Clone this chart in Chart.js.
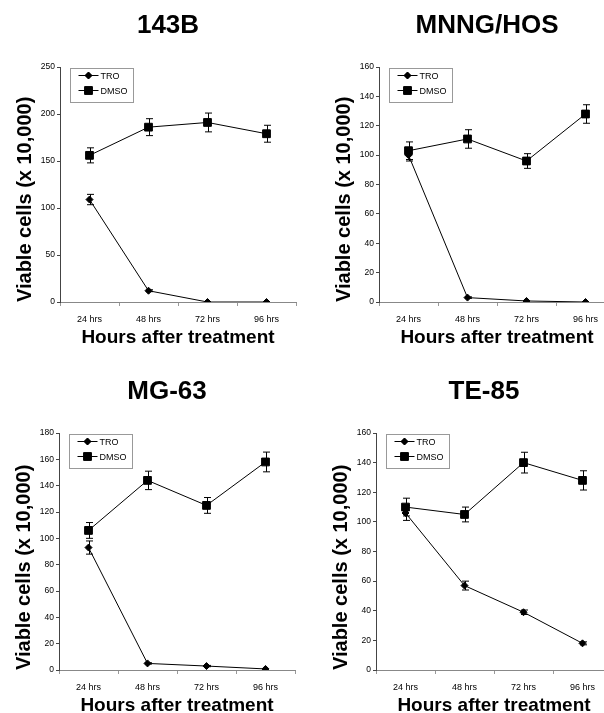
<!DOCTYPE html>
<html>
<head>
<meta charset="utf-8">
<script src="https://cdn.jsdelivr.net/npm/chart.js@4/dist/chart.umd.min.js"></script>
<style>
    body { margin: 0; background: #fff; width: 604px; height: 713px; overflow: hidden; position: relative; }
    canvas { position: absolute; }
</style>
</head>
<body>
<canvas id="c143b" width="319" height="347" style="left:0;top:0"></canvas>
<canvas id="cmnng" width="319" height="347" style="left:319px;top:0"></canvas>
<canvas id="cmg63" width="319" height="349" style="left:-1px;top:366px"></canvas>
<canvas id="cte85" width="319" height="349" style="left:316px;top:366px"></canvas>
<script>
const hours = ['24 hrs', '48 hrs', '72 hrs', '96 hrs'];

// 143B
const tro143B = [109, 12, 0, 0];
const tro143BErr = [5.5, 1, 0, 0];
const dmso143B = [156, 186, 191, 179];
const dmso143BErr = [8, 9, 10, 9];

// MNNG/HOS
const troMnng = [100, 3, 0.7, 0];
const troMnngErr = [4, 0.5, 0, 0];
const dmsoMnng = [103, 111, 96, 128];
const dmsoMnngErr = [6, 6.3, 5, 6.3];

// MG-63
const troMg63 = [93, 5, 3, 0.8];
const troMg63Err = [5, 0.5, 0.5, 0];
const dmsoMg63 = [106, 144, 125, 158];
const dmsoMg63Err = [6, 7, 6, 7.5];

// TE-85
const troTe85 = [106, 57, 39, 18];
const troTe85Err = [5, 3, 1.5, 1];
const dmsoTe85 = [110, 105, 140, 128];
const dmsoTe85Err = [6, 5, 7, 6.5];

const FONT = '"Liberation Sans", Arial, sans-serif';

// error bars drawn from each dataset's errors array
const errorBars = {
    id: 'errorBars',
    afterDatasetsDraw(chart) {
        const ctx = chart.ctx;
        const y = chart.scales.y;
        ctx.save();
        ctx.strokeStyle = '#000';
        ctx.lineWidth = 1;
        chart.data.datasets.forEach((ds, di) => {
            const meta = chart.getDatasetMeta(di);
            ds.errors.forEach((e, i) => {
                if (!e) return;
                const x = Math.round(meta.data[i].x) + 0.5;
                const top = y.getPixelForValue(ds.data[i] + e);
                const bot = y.getPixelForValue(ds.data[i] - e);
                ctx.beginPath();
                ctx.moveTo(x, top); ctx.lineTo(x, bot);
                ctx.moveTo(x - 3.5, top); ctx.lineTo(x + 3.5, top);
                ctx.moveTo(x - 3.5, bot); ctx.lineTo(x + 3.5, bot);
                ctx.stroke();
            });
        });
        ctx.restore();
    }
};

// boxed legend inside the plot, top left, plus the panel title
const panelDecor = {
    id: 'panelDecor',
    afterDraw(chart, args, opts) {
        const ctx = chart.ctx;
        const area = chart.chartArea;
        ctx.save();
        ctx.fillStyle = '#000';
        ctx.font = 'bold 26px ' + FONT;
        ctx.textAlign = 'center';
        ctx.textBaseline = 'middle';
        ctx.fillText(opts.title, area.left + 108, 26);

        const bx = Math.round(area.left + 10) + 0.5;
        const by = Math.round(area.top + 1) + 0.5;
        ctx.strokeStyle = '#999';
        ctx.lineWidth = 1;
        ctx.strokeRect(bx, by, 63, 34);

        ctx.font = '9px ' + FONT;
        ctx.textAlign = 'left';
        chart.data.datasets.forEach((ds, i) => {
            const ly = by + 7 + i * 15;
            ctx.beginPath();
            ctx.moveTo(bx + 8, ly); ctx.lineTo(bx + 28, ly);
            ctx.strokeStyle = '#000';
            ctx.stroke();
            Chart.helpers.drawPoint(ctx, {
                pointStyle: ds.pointStyle, radius: ds.pointRadius, borderWidth: 1
            }, bx + 18, ly);
            ctx.fill();
            ctx.fillText(ds.label, bx + 30, ly + 1);
        });
        ctx.restore();
    }
};

function makePanel(id, title, yMax, step, tro, troErr, dmso, dmsoErr) {
    const ctx = document.getElementById(id).getContext('2d');
    return new Chart(ctx, {
        type: 'line',
        data: {
            labels: hours,
            datasets: [{
                label: 'TRO',
                data: tro,
                errors: troErr,
                borderColor: '#000',
                backgroundColor: '#000',
                borderWidth: 1,
                pointStyle: 'rectRot',
                pointRadius: 3.5,
                tension: 0
            }, {
                label: 'DMSO',
                data: dmso,
                errors: dmsoErr,
                borderColor: '#000',
                backgroundColor: '#000',
                borderWidth: 1,
                pointStyle: 'rect',
                pointRadius: 5.5,
                tension: 0
            }]
        },
        options: {
            responsive: false,
            animation: false,
            layout: { padding: { top: 67, right: 23, left: 0, bottom: 0 } },
            plugins: {
                legend: { display: false },
                tooltip: { enabled: false },
                panelDecor: { title: title }
            },
            scales: {
                x: {
                    offset: true,
                    grid: { drawOnChartArea: false, tickLength: 4, color: '#999', offset: true },
                    border: { color: '#888', dash: [2, 2] },
                    ticks: { color: '#000', padding: 8, font: { family: FONT, size: 9 } },
                    title: {
                        display: true,
                        text: 'Hours after treatment',
                        color: '#000',
                        font: { family: FONT, size: 19, weight: 'bold', lineHeight: 1 },
                        padding: 0
                    },
                    afterFit: s => { s.height = 45; }
                },
                y: {
                    min: 0,
                    max: yMax,
                    grid: { drawOnChartArea: false, tickLength: 3, color: '#444' },
                    border: { color: '#444' },
                    ticks: { stepSize: step, color: '#000', padding: 2, font: { family: FONT, size: 8.5 } },
                    title: {
                        display: true,
                        text: 'Viable cells (x 10,000)',
                        align: 'start',
                        color: '#000',
                        font: { family: FONT, size: 20, weight: 'bold', lineHeight: 1.2 },
                        padding: { top: 13, bottom: 0 }
                    },
                    afterFit: s => { s.width = 60; }
                }
            }
        },
        plugins: [errorBars, panelDecor]
    });
}

makePanel('c143b', '143B', 250, 50, tro143B, tro143BErr, dmso143B, dmso143BErr);
makePanel('cmnng', 'MNNG/HOS', 160, 20, troMnng, troMnngErr, dmsoMnng, dmsoMnngErr);
makePanel('cmg63', 'MG-63', 180, 20, troMg63, troMg63Err, dmsoMg63, dmsoMg63Err);
makePanel('cte85', 'TE-85', 160, 20, troTe85, troTe85Err, dmsoTe85, dmsoTe85Err);
</script>
</body>
</html>
